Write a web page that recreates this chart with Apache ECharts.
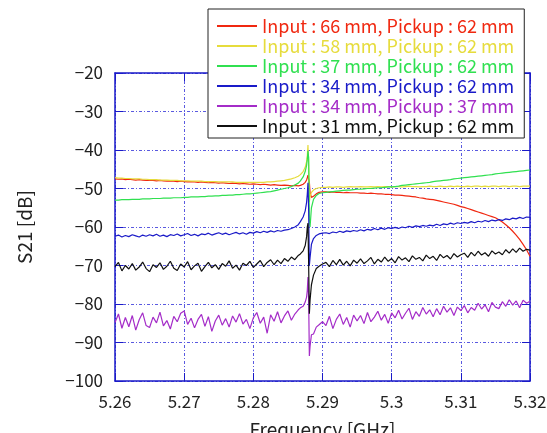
<!DOCTYPE html>
<html>
<head>
<meta charset="utf-8">
<script src="https://cdn.jsdelivr.net/npm/echarts@6/dist/echarts.min.js"></script>
<style>
  html, body { margin: 0; padding: 0; background: #fff; }
  #chart { width: 547px; height: 433px; }
</style>
</head>
<body>
<div id="chart"></div>
<script>
// frequency sample points [GHz]
const freq = [
  5.2600, 5.2605, 5.2610, 5.2615, 5.2620, 5.2625, 5.2630, 5.2635, 5.2640, 5.2645,
  5.2650, 5.2655, 5.2660, 5.2665, 5.2670, 5.2675, 5.2680, 5.2685, 5.2690, 5.2695,
  5.2700, 5.2705, 5.2710, 5.2715, 5.2720, 5.2725, 5.2730, 5.2735, 5.2740, 5.2745,
  5.2750, 5.2755, 5.2760, 5.2765, 5.2770, 5.2775, 5.2780, 5.2785, 5.2790, 5.2795,
  5.2800, 5.2805, 5.2810, 5.2815, 5.2820, 5.2825, 5.2830, 5.2835, 5.2840, 5.2845,
  5.2850, 5.2855, 5.2860, 5.2865,
  5.2868, 5.2872, 5.2875, 5.2877, 5.2878, 5.2879, 5.2880, 5.2881, 5.2882, 5.2884, 5.2887, 5.2891, 5.2895, 5.2900,
  5.2905, 5.2910, 5.2915, 5.2920, 5.2925, 5.2930, 5.2935, 5.2940, 5.2945, 5.2950,
  5.2955, 5.2960, 5.2965, 5.2970, 5.2975, 5.2980, 5.2985, 5.2990, 5.2995, 5.3000,
  5.3005, 5.3010, 5.3015, 5.3020, 5.3025, 5.3030, 5.3035, 5.3040, 5.3045, 5.3050,
  5.3055, 5.3060, 5.3065, 5.3070, 5.3075, 5.3080, 5.3085, 5.3090, 5.3095, 5.3100,
  5.3105, 5.3110, 5.3115, 5.3120, 5.3125, 5.3130, 5.3135, 5.3140, 5.3145, 5.3150,
  5.3155, 5.3160, 5.3165, 5.3170, 5.3175, 5.3180, 5.3185, 5.3190, 5.3195, 5.3200
]

// S21 [dB]
const in66pu62 = [
  -47.5, -47.6, -47.5, -47.7, -47.6, -47.7, -47.8, -47.7, -47.8, -47.9,
  -47.8, -47.9, -48.0, -47.9, -48.0, -48.1, -48.0, -48.1, -48.2, -48.1,
  -48.2, -48.3, -48.2, -48.3, -48.4, -48.3, -48.4, -48.5, -48.4, -48.5,
  -48.6, -48.5, -48.6, -48.7, -48.6, -48.7, -48.8, -48.7, -48.8, -48.9,
  -48.8, -48.9, -49.0, -48.9, -49.0, -49.1, -49.0, -49.1, -49.2, -49.1,
  -49.2, -49.3, -49.2, -49.3,
  -49.2, -48.9, -48.4, -47.8, -47.2, -46.5, -47.5, -48.3, -51.0, -52.3, -52.0, -51.4, -51.0, -50.9,
  -50.9, -51.0, -50.9, -51.0, -51.0, -51.1, -51.0, -51.1, -51.1, -51.1,
  -51.2, -51.2, -51.3, -51.2, -51.3, -51.4, -51.4, -51.5, -51.5, -51.6,
  -51.7, -51.7, -51.8, -51.9, -52.0, -52.1, -52.2, -52.4, -52.5, -52.7,
  -52.8, -52.9, -53.1, -53.3, -53.5, -53.7, -53.9, -54.1, -54.4, -54.7,
  -54.9, -55.2, -55.5, -55.8, -56.1, -56.4, -56.7, -57.0, -57.3, -57.6,
  -58.1, -58.7, -59.4, -60.2, -61.1, -62.1, -63.2, -64.5, -65.9, -67.6
]
const in58pu62 = [
  -47.2, -47.3, -47.3, -47.4, -47.4, -47.5, -47.5, -47.5, -47.6, -47.6,
  -47.7, -47.7, -47.7, -47.8, -47.8, -47.8, -47.9, -47.9, -47.9, -48.0,
  -48.0, -48.0, -48.1, -48.1, -48.1, -48.1, -48.2, -48.2, -48.2, -48.2,
  -48.3, -48.3, -48.3, -48.3, -48.3, -48.4, -48.4, -48.4, -48.4, -48.4,
  -48.4, -48.4, -48.4, -48.4, -48.3, -48.3, -48.2, -48.1, -48.0, -47.9,
  -47.7, -47.5, -47.2, -46.8,
  -46.4, -45.6, -44.5, -43.0, -41.5, -38.7, -44.0, -53.5, -52.0, -51.0, -50.4, -50.0, -49.8, -49.7,
  -49.7, -49.6, -49.7, -49.6, -49.6, -49.7, -49.6, -49.5, -49.6, -49.6,
  -49.5, -49.6, -49.6, -49.5, -49.6, -49.5, -49.6, -49.5, -49.5, -49.6,
  -49.5, -49.5, -49.6, -49.5, -49.4, -49.5, -49.5, -49.6, -49.5, -49.5,
  -49.4, -49.5, -49.5, -49.4, -49.5, -49.5, -49.4, -49.5, -49.4, -49.5,
  -49.5, -49.4, -49.5, -49.4, -49.4, -49.5, -49.4, -49.5, -49.4, -49.4,
  -49.5, -49.4, -49.4, -49.5, -49.4, -49.4, -49.5, -49.4, -49.4, -49.4
]
const in37pu62 = [
  -53.0, -53.0, -52.9, -52.9, -52.9, -52.8, -52.8, -52.8, -52.7, -52.7,
  -52.7, -52.6, -52.6, -52.6, -52.5, -52.5, -52.5, -52.4, -52.4, -52.4,
  -52.3, -52.3, -52.2, -52.2, -52.2, -52.1, -52.1, -52.0, -52.0, -51.9,
  -51.9, -51.8, -51.8, -51.7, -51.7, -51.6, -51.6, -51.5, -51.4, -51.4,
  -51.3, -51.2, -51.1, -51.0, -50.9, -50.8, -50.6, -50.4, -50.2, -50.0,
  -49.8, -49.5, -49.1, -48.6,
  -48.0, -47.0, -45.6, -44.0, -42.5, -40.2, -42.0, -58.0, -60.0, -55.0, -52.8, -51.8, -51.3, -51.1,
  -51.0, -50.9, -50.8, -50.7, -50.6, -50.5, -50.4, -50.4, -50.3, -50.2,
  -50.2, -50.1, -50.0, -50.0, -49.9, -49.8, -49.8, -49.7, -49.6, -49.6,
  -49.5, -49.4, -49.2, -49.1, -49.0, -48.9, -48.8, -48.7, -48.6, -48.5,
  -48.4, -48.2, -48.1, -48.0, -47.9, -47.8, -47.7, -47.5, -47.4, -47.3,
  -47.2, -47.1, -47.0, -46.9, -46.8, -46.7, -46.6, -46.5, -46.4, -46.2,
  -46.1, -46.0, -45.9, -45.8, -45.7, -45.6, -45.5, -45.4, -45.3, -45.2
]
const in34pu62 = [
  -62.4, -62.1, -62.6, -62.2, -62.5, -62.0, -62.3, -62.6, -62.1, -62.4,
  -62.0, -62.3, -61.9, -62.4, -62.1, -62.5, -62.0, -62.2, -61.8, -62.3,
  -62.0, -61.7, -62.2, -61.9, -62.3, -61.8, -62.0, -61.6, -62.1, -61.8,
  -61.5, -61.9, -61.6, -62.0, -61.7, -61.4, -61.8, -61.5, -61.9, -61.4,
  -61.6, -61.2, -61.5, -61.1, -61.4, -61.0, -61.3, -60.9, -61.1, -60.8,
  -60.7, -60.4, -60.0, -59.4,
  -58.6, -57.4, -55.8, -53.6, -51.5, -48.5, -56.0, -70.0, -68.0, -64.5, -63.0, -62.2, -61.8, -61.6,
  -61.5, -61.7, -61.3, -61.5, -61.1, -61.4, -61.0, -61.2, -60.9, -61.1,
  -60.7, -61.0, -60.6, -60.8, -60.4, -60.7, -60.3, -60.6, -60.2, -60.4,
  -60.1, -60.4, -60.0, -60.2, -59.8, -60.1, -59.7, -59.9, -59.6, -59.8,
  -59.5, -59.7, -59.3, -59.6, -59.2, -59.4, -59.0, -59.3, -58.9, -59.1,
  -58.8, -59.0, -58.6, -58.9, -58.5, -58.7, -58.3, -58.6, -58.2, -58.4,
  -58.1, -58.3, -57.9, -58.1, -57.7, -57.9, -57.5, -57.8, -57.4, -57.5
]
const in34pu37 = [
  -84.8, -82.6, -86.3, -83.5, -85.9, -83.0, -86.8, -84.1, -82.3, -85.6,
  -86.1, -83.4, -84.9, -82.1, -85.7, -84.3, -86.5, -83.2, -84.6, -82.4,
  -81.8, -85.3, -83.7, -86.2, -84.0, -82.7, -85.8, -83.3, -87.1, -84.4,
  -82.9, -85.5, -83.8, -86.0, -83.1, -84.7, -82.5, -85.2, -84.0, -86.4,
  -83.6, -82.2, -85.0, -83.4, -87.6, -82.8, -84.5, -82.0, -84.9, -83.1,
  -81.8, -84.2, -82.6, -81.5,
  -81.0, -80.6, -79.5, -78.2, -76.5, -73.0, -79.0, -93.5, -91.0, -88.0, -87.8, -86.0, -85.4, -84.6,
  -85.6, -83.2, -86.4, -84.0, -82.6, -85.3, -83.5, -86.0, -82.9, -84.4,
  -83.0, -85.1, -82.2, -84.6, -83.4, -81.9, -84.2, -82.7, -85.0, -82.3,
  -83.6, -81.6, -83.9, -82.4, -81.1, -84.0, -82.0, -83.2, -80.9, -82.6,
  -81.5, -83.3, -81.2, -82.8, -80.6, -82.1, -81.0, -83.0, -80.8, -81.7,
  -80.4, -82.3, -80.9, -81.6, -79.8, -81.3, -80.2, -82.0, -79.6, -80.8,
  -81.2, -79.4, -80.6, -78.9, -80.3, -79.2, -81.0, -79.0, -79.8, -79.3
]
const in31pu62 = [
  -70.3, -69.2, -71.4, -70.0, -70.9, -69.5, -71.2, -70.4, -69.1, -70.8,
  -71.6, -69.8, -70.5, -69.3, -71.0, -70.2, -68.9, -70.7, -71.3, -69.6,
  -70.4, -69.0, -71.1, -70.1, -69.4, -71.5, -70.3, -69.2, -70.6, -69.8,
  -71.0, -69.5, -70.2, -68.8, -70.7, -69.9, -71.2, -69.4, -70.0, -68.9,
  -70.5, -69.6, -68.7, -70.3, -69.2, -68.5, -69.8, -68.6, -69.5, -68.2,
  -68.9, -67.8, -68.5, -67.4,
  -67.0, -66.2, -64.8, -62.5, -60.0, -59.0, -70.0, -82.5, -79.0, -75.0, -72.5, -70.8, -70.2, -69.6,
  -69.2, -70.3, -68.7, -69.8, -68.4, -69.9, -68.9, -70.1, -68.6, -69.4,
  -68.3, -69.5, -68.8, -67.9, -69.6, -68.4, -69.1, -67.8, -68.9, -68.2,
  -69.3, -67.7, -68.6, -68.0, -69.0, -67.5, -68.4, -67.9, -68.8, -67.3,
  -68.2, -67.6, -68.7, -67.1, -68.0, -67.4, -68.3, -66.9, -67.8, -67.2,
  -66.8, -67.9, -66.6, -67.5, -66.3, -67.3, -66.7, -67.6, -66.2, -67.0,
  -66.5, -67.2, -65.9, -66.8, -65.7, -66.6, -65.5, -66.3, -65.8, -66.0
]

const seriesNames = [
  'Input : 66 mm, Pickup : 62 mm',
  'Input : 58 mm, Pickup : 62 mm',
  'Input : 37 mm, Pickup : 62 mm',
  'Input : 34 mm, Pickup : 62 mm',
  'Input : 34 mm, Pickup : 37 mm',
  'Input : 31 mm, Pickup : 62 mm'
]
const seriesValues = [in66pu62, in58pu62, in37pu62, in34pu62, in34pu37, in31pu62]
const seriesColors = ['#f02810', '#e6dc3c', '#30e050', '#1a1ac8', '#a42cc8', '#101010']

const xTicks = ['5.26', '5.27', '5.28', '5.29', '5.3', '5.31', '5.32']
const yTicks = ['−100', '−90', '−80', '−70', '−60', '−50', '−40', '−30', '−20']

const fontFamily = 'Noto Sans CJK JP'
const axisBlue = '#1a1ac8'
const gridBlue = '#5a5ae0'

const myChart = echarts.init(document.getElementById('chart'))

const option = {
  animation: false,
  textStyle: { fontFamily: fontFamily },
  grid: { left: 115, top: 73, right: 17, bottom: 52, outerBoundsMode: 'none' },
  legend: {
    orient: 'vertical',
    left: 208,
    top: 9,
    padding: [7, 10, 2, 9],
    itemGap: 0,
    itemWidth: 40,
    itemHeight: 2,
    icon: 'rect',
    backgroundColor: '#fff',
    borderColor: '#222',
    borderWidth: 1,
    textStyle: { fontSize: 18, lineHeight: 20, fontFamily: fontFamily },
    data: seriesNames.map((n, i) => ({ name: n, textStyle: { color: seriesColors[i] } }))
  },
  xAxis: [
    {
      type: 'value',
      min: 5.26,
      max: 5.32,
      interval: 0.01,
      name: 'Frequency [GHz]',
      nameLocation: 'middle',
      nameGap: 39,
      nameTextStyle: { fontSize: 19, color: '#222' },
      axisLine: { lineStyle: { color: axisBlue, width: 1.5 } },
      axisTick: { inside: true, length: 8, lineStyle: { color: axisBlue } },
      axisLabel: {
        fontSize: 17, color: '#222', margin: 12,
        formatter: v => xTicks[Math.round((v - 5.26) * 100)]
      },
      splitLine: { show: true, lineStyle: { color: gridBlue, type: [3, 2, 1, 2], width: 1 } }
    },
    {
      type: 'value',
      position: 'top',
      min: 5.26,
      max: 5.32,
      interval: 0.01,
      axisLine: { lineStyle: { color: axisBlue, width: 1.5 } },
      axisTick: { inside: true, length: 8, lineStyle: { color: axisBlue } },
      axisLabel: { show: false },
      splitLine: { show: false }
    }
  ],
  yAxis: [
    {
      type: 'value',
      min: -100,
      max: -20,
      interval: 10,
      name: 'S21 [dB]',
      nameLocation: 'middle',
      nameGap: 81,
      nameTextStyle: { fontSize: 19, color: '#222' },
      axisLine: { show: true, lineStyle: { color: axisBlue, width: 1.5 } },
      axisTick: { show: true, inside: true, length: 8, lineStyle: { color: axisBlue } },
      axisLabel: {
        fontSize: 17, color: '#222', margin: 12,
        formatter: v => yTicks[Math.round((v + 100) / 10)]
      },
      splitLine: { show: true, lineStyle: { color: gridBlue, type: [3, 2, 1, 2], width: 1 } }
    },
    {
      type: 'value',
      position: 'right',
      min: -100,
      max: -20,
      interval: 10,
      axisLine: { show: true, lineStyle: { color: axisBlue, width: 1.5 } },
      axisTick: { show: true, inside: true, length: 8, lineStyle: { color: axisBlue } },
      axisLabel: { show: false },
      splitLine: { show: false }
    }
  ],
  series: seriesNames.map((n, i) => ({
    name: n,
    type: 'line',
    showSymbol: false,
    symbol: 'none',
    color: seriesColors[i],
    lineStyle: { width: 1.2, color: seriesColors[i] },
    data: freq.map((f, k) => [f, seriesValues[i][k]])
  }))
}

myChart.setOption(option)
</script>
</body>
</html>
